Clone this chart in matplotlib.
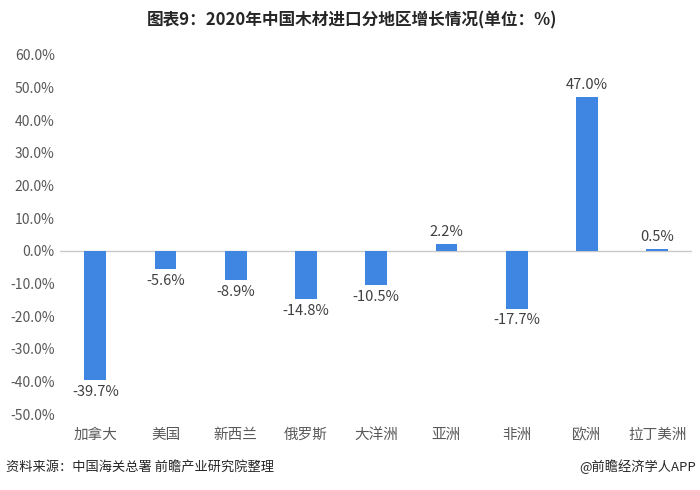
import numpy as np
import matplotlib.pyplot as plt

plt.rcParams['font.family'] = ['Noto Sans CJK SC', 'DejaVu Sans']

regions = ['加拿大', '美国', '新西兰', '俄罗斯', '大洋洲', '亚洲', '非洲', '欧洲', '拉丁美洲']
growth = [-39.7, -5.6, -8.9, -14.8, -10.5, 2.2, -17.7, 47.0, 0.5]
yticks = [-50, -40, -30, -20, -10, 0, 10, 20, 30, 40, 50, 60]

fig = plt.figure(figsize=(7, 4.9), dpi=100)
ax = fig.add_axes([0.086, 0.155, 0.903, 0.733])

x = np.arange(len(regions))
ax.bar(x, growth, width=0.31, color='#3F86E3', zorder=2)
ax.axhline(0, color='#C8C8C8', lw=1, zorder=1)

for xi, v in zip(x, growth):
    if v >= 0:
        ax.text(xi, v + 1.5, '{:.1f}%'.format(v), ha='center', va='bottom',
                fontsize=10.5, color='#404040')
    else:
        ax.text(xi, v - 1.5, '{:.1f}%'.format(v), ha='center', va='top',
                fontsize=10.5, color='#404040')

ax.set_xlim(-0.5, len(regions) - 0.5)
ax.set_ylim(-50, 60)
ax.set_yticks(yticks)
ax.set_yticklabels(['{:.1f}%'.format(t) for t in yticks], fontsize=10, color='#595959')
ax.set_xticks(x)
ax.set_xticklabels(regions, fontsize=10.5, color='#595959')
ax.tick_params(axis='both', length=0)
ax.tick_params(axis='x', pad=10)
ax.tick_params(axis='y', pad=4)
for s in ax.spines.values():
    s.set_visible(False)

fig.text(0.503, 0.958, '图表9：2020年中国木材进口分地区增长情况(单位：%)', ha='center', va='center',
         fontsize=12, fontweight='bold', color='#262626')
fig.text(0.008, 0.047, '资料来源：中国海关总署 前瞻产业研究院整理', ha='left', va='center',
         fontsize=9.5, color='#262626')
fig.text(0.995, 0.047, '@前瞻经济学人APP', ha='right', va='center',
         fontsize=9.5, color='#262626')

fig.savefig('out.png', dpi=100)
